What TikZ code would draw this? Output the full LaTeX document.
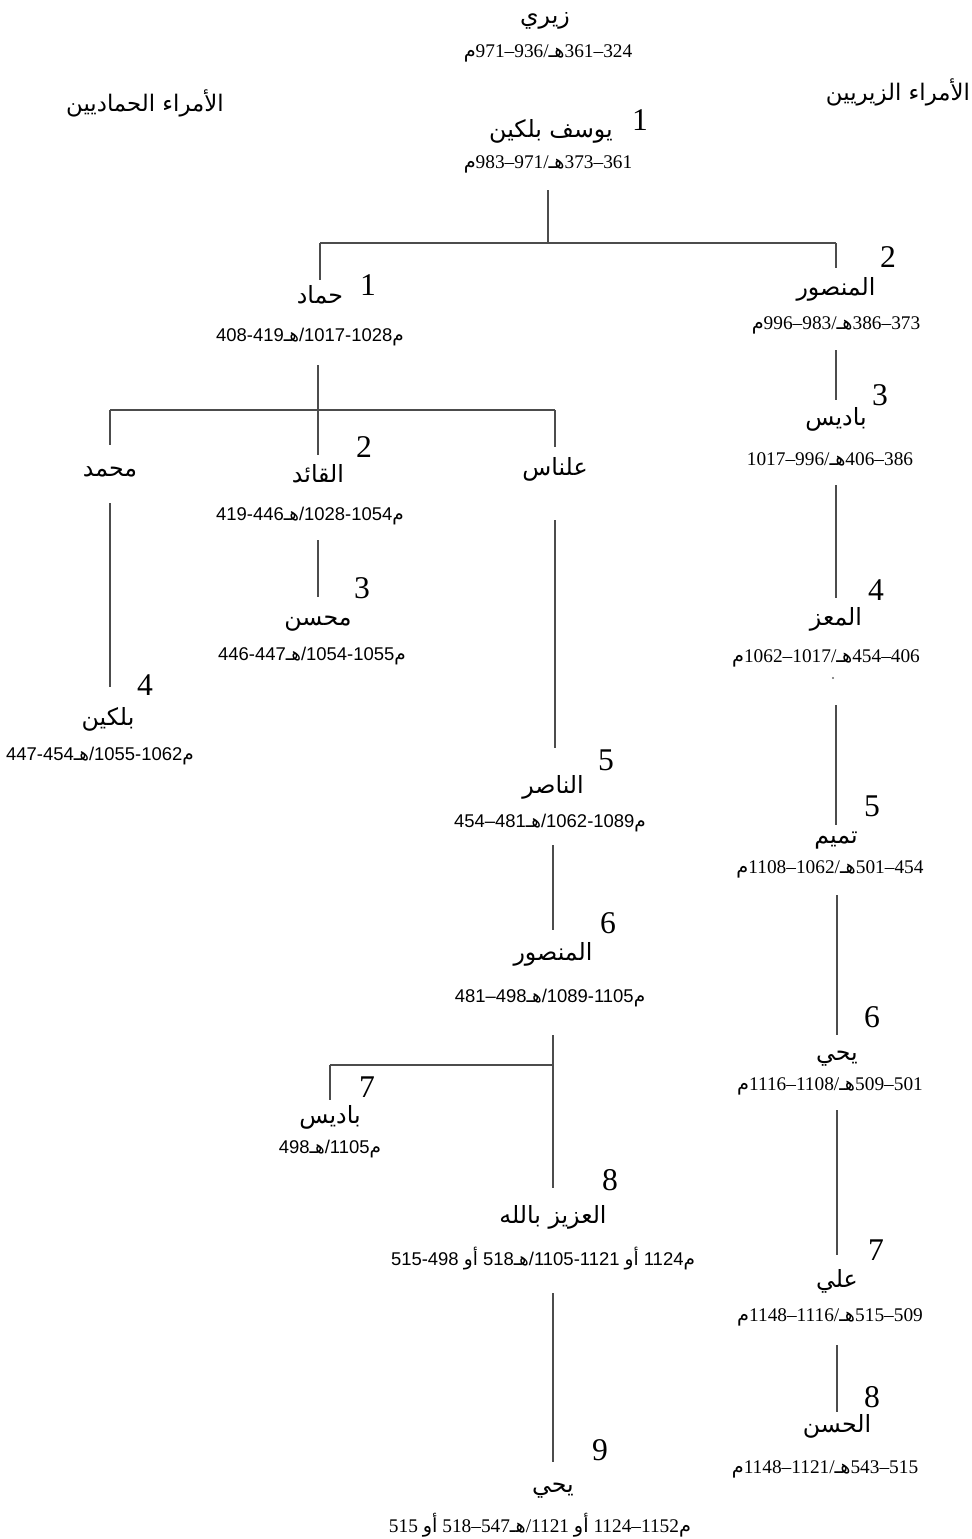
\documentclass[tikz,border=0pt]{standalone}
\usepackage{fontspec}
\setmainfont{Liberation Serif}
\newfontfamily\arabicfont[Script=Arabic]{DejaVu Sans}
\newfontfamily\arialfont{Liberation Sans}
\TeXXeTstate=1
\usetikzlibrary{positioning}

\begin{document}
\begin{tikzpicture}[
  x=0.02cm, y=-0.02cm,
  emir/.style={font=\arabicfont\fontsize{13.5}{15}\selectfont, inner sep=0pt, text height=0.3cm, text depth=0.1cm},
  hijri/.style={font=\fontsize{11}{13}\selectfont, inner sep=0pt, text height=0.28cm, text depth=0.06cm},
  hijrisf/.style={hijri, font=\arialfont\fontsize{10.5}{12}\selectfont},
  rank/.style={font=\fontsize{18}{20}\selectfont, inner sep=0pt},
  head/.style={font=\arabicfont\fontsize{13}{15}\selectfont, inner sep=0pt},
  link/.style={draw=black!70, line width=0.9pt},
  gap/.style 2 args={shorten <=#1*0.02cm, shorten >=#2*0.02cm}
]
\useasboundingbox (0,0) rectangle (972,1539);

\node[head] (headH) at (145,103) {\beginR الأمراء الحماديين\endR};
\node[head] (headZ) at (898,92) {\beginR الأمراء الزيريين\endR};

\node[emir] (ziriN) at (545,18) {\beginR زيري\endR};
\node[hijri] (ziriD) at (548,52) {{\arabicfont م}971–936/{\arabicfont هـ}361–324};
\node[rank] (r1) at (640,120) {1};
\node[emir] (yusN) at (551,132) {\beginR يوسف بلكين\endR};
\node[hijri] (yusD) at (548,163) {{\arabicfont م}983–971/{\arabicfont هـ}373–361};
\coordinate (forkTop) at (548,243);

\node[rank] (z2) at (888,257) {2};
\node[emir] (zManN) at (836,290) {\beginR المنصور\endR};
\node[hijri] (zManD) at (836,324) {{\arabicfont م}996–983/{\arabicfont هـ}386–373};
\node[rank] (z3) at (880,395) {3};
\node[emir] (zBadN) at (836,420) {\beginR باديس\endR};
\node[hijri] (zBadD) at (830,460) {1017–996/{\arabicfont هـ}406–386};
\node[rank] (z4) at (876,590) {4};
\node[emir] (zMuiN) at (836,620) {\beginR المعز\endR};
\node[hijri] (zMuiD) at (826,657) {{\arabicfont م}1062–1017/{\arabicfont هـ}454–406};
\node[rank] (z5) at (872,806) {5};
\node[emir] (zTamN) at (836,838) {\beginR تميم\endR};
\node[hijri] (zTamD) at (830,868) {{\arabicfont م}1108–1062/{\arabicfont هـ}501–454};
\node[rank] (z6) at (872,1017) {6};
\node[emir] (zYahN) at (837,1055) {\beginR يحي\endR};
\node[hijri] (zYahD) at (830,1085) {{\arabicfont م}1116–1108/{\arabicfont هـ}509–501};
\node[rank] (z7) at (876,1250) {7};
\node[emir] (zAliN) at (837,1282) {\beginR علي\endR};
\node[hijri] (zAliD) at (830,1316) {{\arabicfont م}1148–1116/{\arabicfont هـ}515–509};
\node[rank] (z8) at (872,1397) {8};
\node[emir] (zHasN) at (837,1427) {\beginR الحسن\endR};
\node[hijri] (zHasD) at (825,1468) {{\arabicfont م}1148–1121/{\arabicfont هـ}543–515};

\node[rank] (h1) at (368,285) {1};
\node[emir] (hHamN) at (320,298) {\beginR حماد\endR};
\node[hijrisf] (hHamD) at (310,336) {408-419{\arabicfont هـ}/1017-1028{\arabicfont م}};
\coordinate (forkH) at (318,410);
\node[emir] (hMuhN) at (110,471) {\beginR محمد\endR};
\node[rank] (h2) at (364,447) {2};
\node[emir] (hQaiN) at (318,477) {\beginR القائد\endR};
\node[hijrisf] (hQaiD) at (310,515) {419-446{\arabicfont هـ}/1028-1054{\arabicfont م}};
\node[emir] (hAlnN) at (555,470) {\beginR علناس\endR};
\node[rank] (h3) at (362,588) {3};
\node[emir] (hMhsN) at (318,620) {\beginR محسن\endR};
\node[hijrisf] (hMhsD) at (312,655) {446-447{\arabicfont هـ}/1054-1055{\arabicfont م}};
\node[rank] (h4) at (145,685) {4};
\node[emir] (hBulN) at (108,720) {\beginR بلكين\endR};
\node[hijrisf] (hBulD) at (100,755) {447-454{\arabicfont هـ}/1055-1062{\arabicfont م}};
\node[rank] (h5) at (606,760) {5};
\node[emir] (hNasN) at (553,788) {\beginR الناصر\endR};
\node[hijrisf] (hNasD) at (550,822) {454–481{\arabicfont هـ}/1062-1089{\arabicfont م}};
\node[rank] (h6) at (608,923) {6};
\node[emir] (hManN) at (553,955) {\beginR المنصور\endR};
\node[hijrisf] (hManD) at (550,997) {481–498{\arabicfont هـ}/1089-1105{\arabicfont م}};
\coordinate (forkB) at (553,1065);
\node[rank] (h7) at (367,1087) {7};
\node[emir] (hBadN) at (330,1118) {\beginR باديس\endR};
\node[hijrisf] (hBadD) at (330,1148) {498{\arabicfont هـ}/1105{\arabicfont م}};
\node[rank] (h8) at (610,1180) {8};
\node[emir] (hAzzN) at (553,1218) {\beginR العزيز بالله\endR};
\node[hijrisf] (hAzzD) at (543,1260) {515-498 {\arabicfont أو} 518{\arabicfont هـ}/1105-1121 {\arabicfont أو} 1124{\arabicfont م}};
\node[rank] (h9) at (600,1450) {9};
\node[emir] (hYahN) at (553,1487) {\beginR يحي\endR};
\node[hijri] (hYahD) at (540,1527) {515 {\arabicfont أو} 518–547{\arabicfont هـ}/1121 {\arabicfont أو} 1124–1152{\arabicfont م}};

\fill[black!60] (833,678) circle (0.6pt);

\draw[link, gap={18.5}{0}] (yusD.south -| forkTop) -- (forkTop);
\draw[link] (hHamN |- forkTop) -- (zManN |- forkTop);
\draw[link, gap={0}{12}] (zManN |- forkTop) -- (zManN.north);
\draw[link, gap={0}{8}] (hHamN |- forkTop) -- (hHamN.north);
\draw[link, gap={17.5}{10}] (zBadN |- zManD.south) -- (zBadN.north);
\draw[link, gap={16.5}{12}] (zMuiN |- zBadD.south) -- (zMuiN.north);
\draw[link, gap={39.5}{3}] (zTamN |- zMuiD.south) -- (zTamN.north);
\draw[link, gap={18.5}{10}] (zYahN |- zTamD.south) -- (zYahN.north);
\draw[link, gap={16.5}{17}] (zAliN |- zYahD.south) -- (zAliN.north);
\draw[link, gap={20.5}{5}] (zHasN |- zAliD.south) -- (zHasN.north);

\draw[link, gap={20.5}{12}] (hQaiN |- hHamD.south) -- (hQaiN.north);
\draw[link] (hMuhN |- forkH) -- (hAlnN |- forkH);
\draw[link, gap={0}{16}] (hMuhN |- forkH) -- (hMuhN.north);
\draw[link, gap={0}{13}] (hAlnN |- forkH) -- (hAlnN.north);
\draw[link, gap={16.5}{13}] (hMhsN |- hQaiD.south) -- (hMhsN.north);
\draw[link, gap={22}{23}] (hMuhN.south) -- (hBulN.north -| hMuhN);
\draw[link, gap={40}{30}] (hAlnN.south) -- (hNasN.north -| hAlnN);
\draw[link, gap={14.5}{15}] (hManN |- hNasD.south) -- (hManN.north);
\draw[link, gap={29.5}{0}] (forkB |- hManD.south) -- (forkB);
\draw[link] (hBadN |- forkB) -- (forkB);
\draw[link, gap={0}{8}] (hBadN |- forkB) -- (hBadN.north);
\draw[link, gap={0}{20}] (forkB) -- (hAzzN.north);
\draw[link, gap={24.5}{15}] (hYahN |- hAzzD.south) -- (hYahN.north);
\end{tikzpicture}
\end{document}
